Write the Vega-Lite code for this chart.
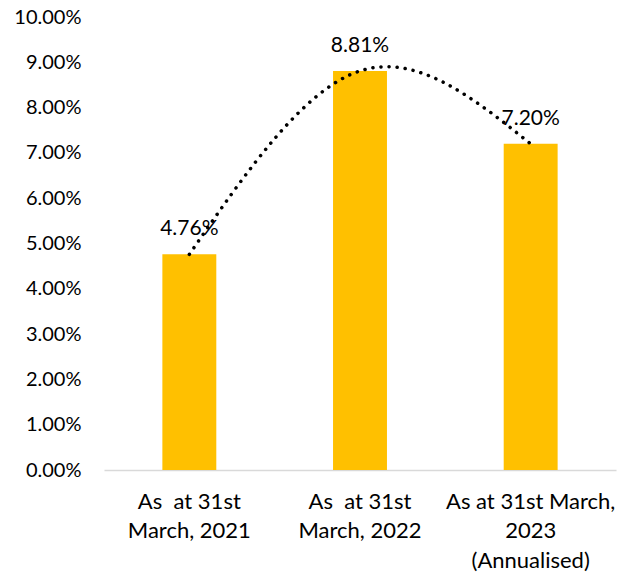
{
  "$schema": "https://vega.github.io/schema/vega-lite/v6.json",
  "autosize": {"type": "none"},
  "width": 512,
  "height": 453,
  "padding": {"left": 104, "top": 17, "right": 5, "bottom": 106},
  "background": "white",
  "config": {
    "view": {"stroke": null},
    "font": "Lato",
    "axis": {"labelFont": "Lato", "labelFontSize": 20, "labelColor": "#000000"}
  },
  "data": {
    "values": [
      {"period": "As\u00a0 at 31st|March, 2021", "rate": 0.0476, "label": "4.76%"},
      {"period": "As\u00a0 at 31st|March, 2022", "rate": 0.0881, "label": "8.81%"},
      {"period": "As at 31st March,|2023|(Annualised)", "rate": 0.072, "label": "7.20%"}
    ]
  },
  "encoding": {
    "x": {
      "field": "period",
      "type": "nominal",
      "sort": null,
      "scale": {"paddingInner": 0.684, "paddingOuter": 0.342},
      "axis": {
        "title": null,
        "labelAngle": 0,
        "labelExpr": "split(datum.value, '|')",
        "labelFontSize": 22,
        "labelLineHeight": 29.5,
        "labelPadding": 21,
        "ticks": false,
        "domainColor": "#d9d9d9",
        "domainWidth": 1.5
      }
    },
    "y": {
      "field": "rate",
      "type": "quantitative",
      "scale": {"domain": [0, 0.1], "nice": false},
      "axis": {
        "title": null,
        "values": [0, 0.01, 0.02, 0.03, 0.04, 0.05, 0.06, 0.07, 0.08, 0.09, 0.1],
        "format": ".2%",
        "grid": false,
        "domain": false,
        "ticks": false,
        "labelPadding": 23
      }
    }
  },
  "layer": [
    {"mark": {"type": "bar", "color": "#FFC000"}},
    {
      "mark": {"type": "text", "baseline": "middle", "dy": -25, "fontSize": 21, "color": "#000000", "font": "Lato"},
      "encoding": {"text": {"field": "label"}}
    },
    {
      "mark": {
        "type": "line",
        "interpolate": "natural",
        "color": "#000000",
        "strokeWidth": 3.5,
        "strokeDash": [0.1, 8],
        "strokeCap": "round"
      }
    }
  ]
}
